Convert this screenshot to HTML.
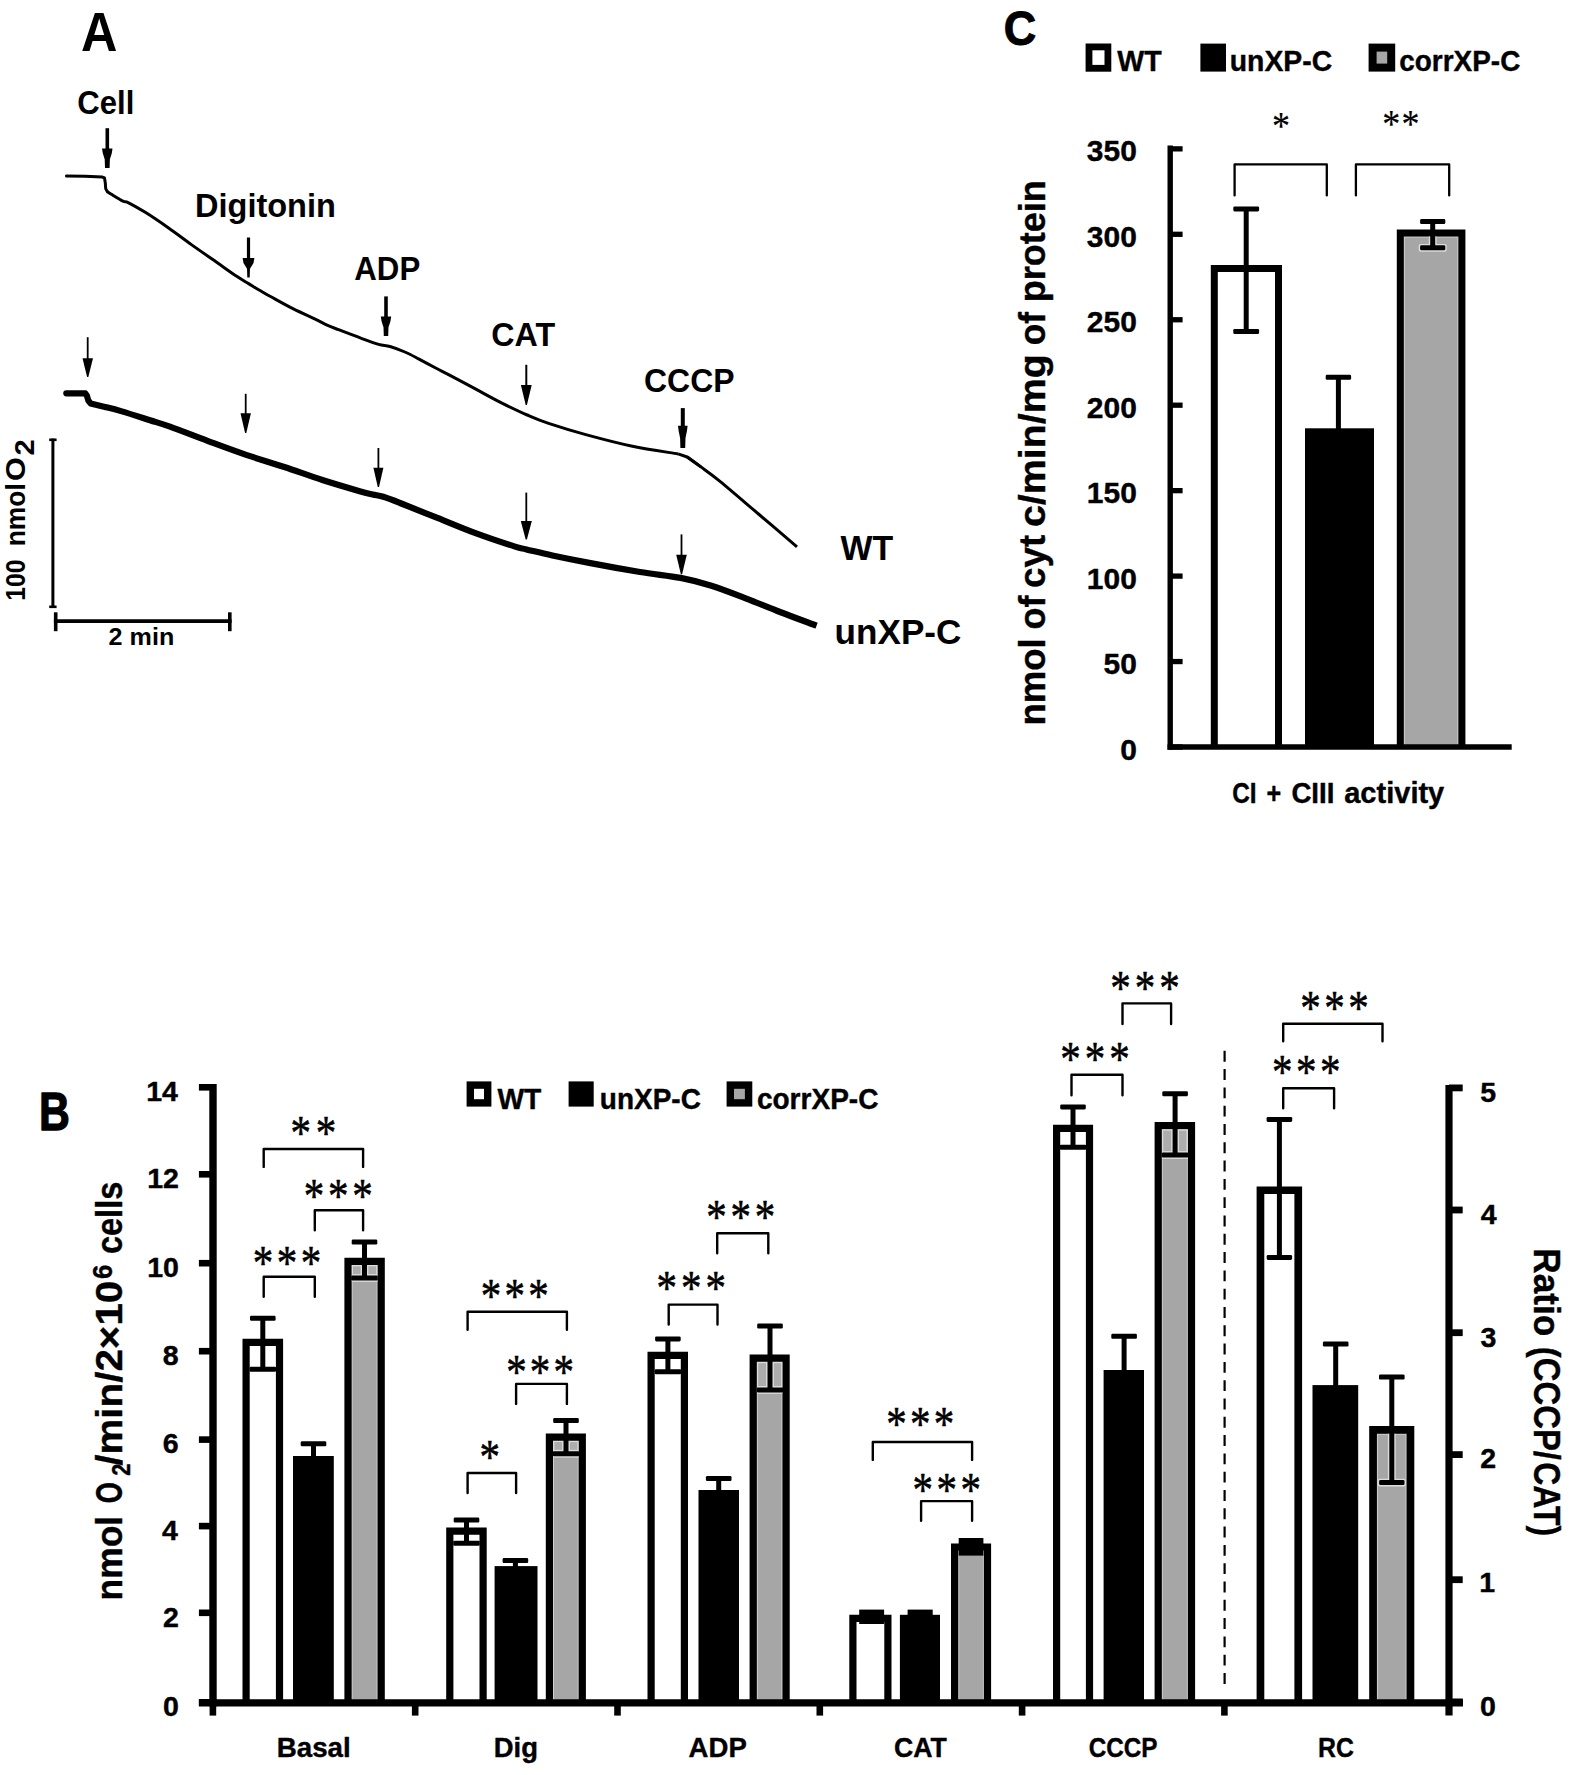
<!DOCTYPE html>
<html lang="en"><head><meta charset="utf-8"><title>Figure</title>
<style>html,body{margin:0;padding:0;background:#fff}svg{display:block}text{fill:#000;white-space:pre}</style>
</head><body>
<svg width="1575" height="1775" viewBox="0 0 1575 1775">
<rect width="1575" height="1775" fill="#fff"/>
<g>
<polyline points="66.5,176.0 85.0,176.3 102.4,177.1 104.5,178.0 105.3,183.0 105.7,188.6 107.3,191.6" fill="none" stroke="#000" stroke-width="3.0" stroke-linejoin="round" stroke-linecap="round"/>
<path d="M107.3,191.6 C108.0,192.1 108.8,192.7 111.4,194.3 C114.0,195.9 120.0,199.7 122.9,201.1 C125.8,202.5 124.8,200.9 128.6,202.8 C132.4,204.7 139.0,208.4 145.7,212.6 C152.4,216.8 161.0,222.7 168.6,228.0 C176.2,233.3 183.8,239.2 191.4,244.6 C199.0,250.0 206.7,255.3 214.3,260.6 C221.9,265.9 231.4,272.8 237.1,276.6 C242.8,280.4 244.8,281.3 248.6,283.6 C252.4,285.9 256.4,288.4 260.0,290.5 C263.6,292.6 264.5,293.3 270.0,296.3 C275.5,299.3 285.3,304.9 292.9,308.7 C300.5,312.5 310.0,316.7 315.7,319.4 C321.4,322.1 323.3,323.4 327.1,325.1 C330.9,326.8 332.9,327.5 338.6,329.7 C344.3,331.9 354.7,335.9 361.4,338.3 C368.1,340.8 373.8,343.0 378.6,344.4 C383.4,345.8 385.6,345.2 390.0,346.5 C394.4,347.8 400.1,349.9 404.9,352.0 C409.7,354.1 413.5,356.2 418.6,358.9 C423.7,361.6 430.5,365.2 435.7,368.0 C440.9,370.8 442.6,371.5 450.0,375.4 C457.4,379.3 471.2,386.7 480.0,391.4 C488.8,396.1 495.0,399.7 502.9,403.6 C510.8,407.5 519.6,411.7 527.2,415.0 C534.8,418.3 538.7,420.1 548.6,423.4 C558.5,426.7 572.7,431.1 586.7,434.9 C600.7,438.7 617.2,443.1 632.4,446.3 C647.6,449.5 670.5,452.6 678.1,453.9" fill="none" stroke="#000" stroke-width="3.0" stroke-linejoin="round" stroke-linecap="butt"/>
<polyline points="678.1,453.9 687.2,457.0 700.9,466.9" fill="none" stroke="#000" stroke-width="3.0" stroke-linejoin="round" stroke-linecap="butt"/>
<path d="M687.2,457.0 C689.5,458.6 695.4,462.8 700.9,466.9 C706.4,470.9 710.3,473.4 720.0,481.3 C729.7,489.2 746.3,503.6 759.1,514.5 C771.9,525.4 790.7,541.4 797.0,546.8" fill="none" stroke="#000" stroke-width="3.0" stroke-linejoin="round" stroke-linecap="butt"/>
<polyline points="66.3,393.3 85.3,393.3 87.0,396.0 88.3,400.5 90.6,403.4 105.0,406.9" fill="none" stroke="#000" stroke-width="6.2" stroke-linejoin="round" stroke-linecap="round"/>
<path d="M105.0,406.9 C107.7,407.6 113.5,408.9 121.0,411.1 C128.5,413.3 141.8,417.6 150.0,420.2 C158.2,422.8 160.3,423.2 170.0,426.7 C179.7,430.2 195.4,436.4 208.1,441.1 C220.8,445.8 233.5,450.6 246.2,454.9 C258.9,459.2 271.6,462.8 284.3,467.0 C297.0,471.2 309.7,475.9 322.4,480.0 C335.1,484.1 352.1,489.0 360.5,491.4 C368.9,493.8 368.9,493.6 372.7,494.5 C376.5,495.4 378.8,495.4 383.3,496.8 C387.9,498.2 390.9,499.4 400.0,503.0 C409.1,506.6 425.4,513.1 438.1,518.2 C450.8,523.3 463.5,528.7 476.2,533.4 C488.9,538.1 505.9,543.7 514.3,546.4 C522.7,549.1 520.1,547.9 526.5,549.4 C532.9,550.9 541.7,553.2 552.4,555.5 C563.1,557.8 575.9,560.4 590.5,563.1 C605.1,565.9 625.0,569.5 640.0,572.0 C655.0,574.5 668.7,575.6 680.6,577.9 C692.5,580.2 700.5,582.3 711.4,585.7 C722.2,589.1 734.3,593.9 745.7,598.3 C757.1,602.7 768.2,607.4 780.0,612.0 C791.8,616.6 810.5,623.4 816.6,625.7" fill="none" stroke="#000" stroke-width="6.2" stroke-linejoin="round" stroke-linecap="butt"/>
<line x1="107.30" y1="128.20" x2="107.30" y2="150.40" stroke="#000" stroke-width="3.6" stroke-linecap="butt" />
<polygon points="102.0,148.4 112.5,148.4 111.8,153.3 109.9,159.2 109.6,168.0 105.0,168.0 104.7,159.2 102.8,153.3" fill="#000"/>
<line x1="248.50" y1="237.50" x2="248.50" y2="260.00" stroke="#000" stroke-width="3.2" stroke-linecap="butt" />
<polygon points="242.6,258.0 254.4,258.0 253.5,262.9 250.0,268.8 249.7,277.6 247.3,277.6 247.0,268.8 243.5,262.9" fill="#000"/>
<line x1="386.00" y1="296.40" x2="386.00" y2="318.60" stroke="#000" stroke-width="3.6" stroke-linecap="butt" />
<polygon points="380.8,316.6 391.2,316.6 390.4,321.5 388.5,327.3 388.2,336.0 383.8,336.0 383.5,327.3 381.6,321.5" fill="#000"/>
<line x1="526.30" y1="364.80" x2="526.30" y2="387.00" stroke="#000" stroke-width="2.0" stroke-linecap="butt" />
<polygon points="520.9,385.0 531.7,385.0 526.9,405.0 525.7,405.0" fill="#000"/>
<line x1="682.80" y1="408.10" x2="682.80" y2="427.70" stroke="#000" stroke-width="4.0" stroke-linecap="butt" />
<polygon points="678.0,425.7 687.6,425.7 686.9,431.3 685.5,438.0 685.2,448.0 680.4,448.0 680.1,438.0 678.7,431.3" fill="#000"/>
<line x1="87.70" y1="337.20" x2="87.70" y2="360.30" stroke="#000" stroke-width="1.8" stroke-linecap="butt" />
<polygon points="82.5,358.3 93.0,358.3 88.3,377.1 87.1,377.1" fill="#000"/>
<line x1="245.70" y1="393.80" x2="245.70" y2="415.30" stroke="#000" stroke-width="1.8" stroke-linecap="butt" />
<polygon points="240.5,413.3 250.9,413.3 246.3,432.9 245.1,432.9" fill="#000"/>
<line x1="378.40" y1="448.00" x2="378.40" y2="469.80" stroke="#000" stroke-width="1.8" stroke-linecap="butt" />
<polygon points="373.4,467.8 383.4,467.8 379.0,486.9 377.8,486.9" fill="#000"/>
<line x1="526.30" y1="492.60" x2="526.30" y2="523.00" stroke="#000" stroke-width="1.8" stroke-linecap="butt" />
<polygon points="520.8,521.0 531.8,521.0 526.9,539.5 525.7,539.5" fill="#000"/>
<line x1="681.50" y1="534.40" x2="681.50" y2="556.80" stroke="#000" stroke-width="1.8" stroke-linecap="butt" />
<polygon points="676.2,554.8 686.8,554.8 682.1,574.3 680.9,574.3" fill="#000"/>
<line x1="52.90" y1="438.60" x2="52.90" y2="608.00" stroke="#000" stroke-width="3.0" stroke-linecap="butt" />
<line x1="49.20" y1="439.80" x2="56.60" y2="439.80" stroke="#000" stroke-width="2.6" stroke-linecap="butt" />
<line x1="49.20" y1="606.80" x2="56.60" y2="606.80" stroke="#000" stroke-width="2.6" stroke-linecap="butt" />
<line x1="53.90" y1="621.10" x2="231.60" y2="621.10" stroke="#000" stroke-width="3.6" stroke-linecap="butt" />
<line x1="55.70" y1="612.30" x2="55.70" y2="631.20" stroke="#000" stroke-width="3.6" stroke-linecap="butt" />
<line x1="229.80" y1="612.30" x2="229.80" y2="631.20" stroke="#000" stroke-width="3.6" stroke-linecap="butt" />
<rect x="1214.30" y="268.60" width="64.20" height="478.40" fill="#fff"/>
<polyline points="1214.30,747.00 1214.30,268.60 1278.50,268.60 1278.50,747.00" fill="none" stroke="#000" stroke-width="7.0" stroke-linejoin="miter"/>
<rect x="1305.00" y="428.30" width="69.00" height="318.70" fill="#000"/>
<rect x="1400.30" y="233.00" width="61.60" height="514.00" fill="#a6a6a6"/>
<rect x="1404.30" y="237.00" width="53.60" height="510.00" fill="none" stroke="#cfcfcf" stroke-width="1"/>
<polyline points="1400.30,747.00 1400.30,233.00 1461.90,233.00 1461.90,747.00" fill="none" stroke="#000" stroke-width="7.0" stroke-linejoin="miter"/>
<line x1="1246.20" y1="208.90" x2="1246.20" y2="331.50" stroke="#000" stroke-width="5.0" stroke-linecap="butt" />
<rect x="1233.30" y="206.40" width="25.80" height="5.00" rx="1.3" fill="#000" />
<rect x="1233.30" y="329.00" width="25.80" height="5.00" rx="1.3" fill="#000" />
<line x1="1338.40" y1="377.30" x2="1338.40" y2="432.00" stroke="#000" stroke-width="5.0" stroke-linecap="butt" />
<rect x="1325.70" y="374.80" width="25.40" height="5.00" rx="1.3" fill="#000" />
<clipPath id="hc1"><rect x="1403.80" y="236.50" width="54.60" height="510.50"/></clipPath>
<g clip-path="url(#hc1)">
<line x1="1432.70" y1="221.60" x2="1432.70" y2="247.80" stroke="#dcdcdc" stroke-width="7.8"/>
<rect x="1418.70" y="243.90" width="28.00" height="7.80" rx="2" fill="#dcdcdc"/>
</g>
<line x1="1432.70" y1="221.60" x2="1432.70" y2="247.80" stroke="#000" stroke-width="5.0" stroke-linecap="butt" />
<rect x="1420.10" y="219.10" width="25.20" height="5.00" rx="1.3" fill="#000" />
<rect x="1420.10" y="245.30" width="25.20" height="5.00" rx="1.3" fill="#000" />
<line x1="1170.20" y1="145.40" x2="1170.20" y2="749.70" stroke="#000" stroke-width="5.4" stroke-linecap="butt" />
<line x1="1167.50" y1="747.00" x2="1511.70" y2="747.00" stroke="#000" stroke-width="5.4" stroke-linecap="butt" />
<line x1="1170.20" y1="747.00" x2="1182.60" y2="747.00" stroke="#000" stroke-width="5.3" stroke-linecap="butt" />
<line x1="1170.20" y1="661.55" x2="1182.60" y2="661.55" stroke="#000" stroke-width="5.3" stroke-linecap="butt" />
<line x1="1170.20" y1="576.10" x2="1182.60" y2="576.10" stroke="#000" stroke-width="5.3" stroke-linecap="butt" />
<line x1="1170.20" y1="490.65" x2="1182.60" y2="490.65" stroke="#000" stroke-width="5.3" stroke-linecap="butt" />
<line x1="1170.20" y1="405.20" x2="1182.60" y2="405.20" stroke="#000" stroke-width="5.3" stroke-linecap="butt" />
<line x1="1170.20" y1="319.75" x2="1182.60" y2="319.75" stroke="#000" stroke-width="5.3" stroke-linecap="butt" />
<line x1="1170.20" y1="234.30" x2="1182.60" y2="234.30" stroke="#000" stroke-width="5.3" stroke-linecap="butt" />
<line x1="1170.20" y1="148.85" x2="1182.60" y2="148.85" stroke="#000" stroke-width="5.3" stroke-linecap="butt" />
<polyline points="1234.6,195.4 1234.6,164.4 1326.8,164.4 1326.8,195.4" fill="none" stroke="#000" stroke-width="2.3" stroke-linejoin="round" stroke-linecap="round"/>
<polyline points="1355.9,195.4 1355.9,164.4 1449.2,164.4 1449.2,195.4" fill="none" stroke="#000" stroke-width="2.3" stroke-linejoin="round" stroke-linecap="round"/>
<rect x="1089.00" y="46.90" width="18.90" height="21.40" fill="#fff" stroke="#000" stroke-width="6.8"/>
<rect x="1200.40" y="43.60" width="25.60" height="28.00" fill="#000"/>
<rect x="1372.60" y="47.60" width="18.60" height="20.00" fill="#a6a6a6" stroke="#000" stroke-width="8"/>
<rect x="246.10" y="1342.40" width="33.40" height="360.40" fill="#fff"/>
<polyline points="246.10,1702.80 246.10,1342.40 279.50,1342.40 279.50,1702.80" fill="none" stroke="#000" stroke-width="7.2" stroke-linejoin="miter"/>
<rect x="293.00" y="1456.00" width="40.80" height="246.80" fill="#000"/>
<rect x="348.00" y="1261.30" width="33.20" height="441.50" fill="#a6a6a6"/>
<rect x="352.10" y="1265.40" width="25.00" height="437.40" fill="none" stroke="#cfcfcf" stroke-width="1"/>
<polyline points="348.00,1702.80 348.00,1261.30 381.20,1261.30 381.20,1702.80" fill="none" stroke="#000" stroke-width="7.2" stroke-linejoin="miter"/>
<rect x="449.80" y="1531.20" width="33.30" height="171.60" fill="#fff"/>
<polyline points="449.80,1702.80 449.80,1531.20 483.10,1531.20 483.10,1702.80" fill="none" stroke="#000" stroke-width="7.2" stroke-linejoin="miter"/>
<rect x="494.60" y="1566.10" width="42.90" height="136.70" fill="#000"/>
<rect x="549.40" y="1437.10" width="32.90" height="265.70" fill="#a6a6a6"/>
<rect x="553.50" y="1441.20" width="24.70" height="261.60" fill="none" stroke="#cfcfcf" stroke-width="1"/>
<polyline points="549.40,1702.80 549.40,1437.10 582.30,1437.10 582.30,1702.80" fill="none" stroke="#000" stroke-width="7.2" stroke-linejoin="miter"/>
<rect x="651.10" y="1355.40" width="33.30" height="347.40" fill="#fff"/>
<polyline points="651.10,1702.80 651.10,1355.40 684.40,1355.40 684.40,1702.80" fill="none" stroke="#000" stroke-width="7.2" stroke-linejoin="miter"/>
<rect x="698.50" y="1490.00" width="40.50" height="212.80" fill="#000"/>
<rect x="753.20" y="1358.20" width="32.90" height="344.60" fill="#a6a6a6"/>
<rect x="757.30" y="1362.30" width="24.70" height="340.50" fill="none" stroke="#cfcfcf" stroke-width="1"/>
<polyline points="753.20,1702.80 753.20,1358.20 786.10,1358.20 786.10,1702.80" fill="none" stroke="#000" stroke-width="7.2" stroke-linejoin="miter"/>
<rect x="852.90" y="1618.40" width="35.00" height="84.40" fill="#fff"/>
<polyline points="852.90,1702.80 852.90,1618.40 887.90,1618.40 887.90,1702.80" fill="none" stroke="#000" stroke-width="7.2" stroke-linejoin="miter"/>
<rect x="899.90" y="1614.80" width="40.10" height="88.00" fill="#000"/>
<rect x="954.60" y="1547.00" width="32.90" height="155.80" fill="#a6a6a6"/>
<rect x="958.70" y="1551.10" width="24.70" height="151.70" fill="none" stroke="#cfcfcf" stroke-width="1"/>
<polyline points="954.60,1702.80 954.60,1547.00 987.50,1547.00 987.50,1702.80" fill="none" stroke="#000" stroke-width="7.2" stroke-linejoin="miter"/>
<rect x="1056.60" y="1128.40" width="32.90" height="574.40" fill="#fff"/>
<polyline points="1056.60,1702.80 1056.60,1128.40 1089.50,1128.40 1089.50,1702.80" fill="none" stroke="#000" stroke-width="7.2" stroke-linejoin="miter"/>
<rect x="1103.60" y="1370.00" width="40.40" height="332.80" fill="#000"/>
<rect x="1158.20" y="1125.60" width="33.30" height="577.20" fill="#a6a6a6"/>
<rect x="1162.30" y="1129.70" width="25.10" height="573.10" fill="none" stroke="#cfcfcf" stroke-width="1"/>
<polyline points="1158.20,1702.80 1158.20,1125.60 1191.50,1125.60 1191.50,1702.80" fill="none" stroke="#000" stroke-width="7.2" stroke-linejoin="miter"/>
<rect x="1260.45" y="1190.25" width="37.80" height="512.55" fill="#fff"/>
<polyline points="1260.45,1702.80 1260.45,1190.25 1298.25,1190.25 1298.25,1702.80" fill="none" stroke="#000" stroke-width="7.7" stroke-linejoin="miter"/>
<rect x="1312.50" y="1385.10" width="45.70" height="317.70" fill="#000"/>
<rect x="1373.05" y="1429.85" width="37.40" height="272.95" fill="#a6a6a6"/>
<rect x="1377.40" y="1434.20" width="28.70" height="268.60" fill="none" stroke="#cfcfcf" stroke-width="1"/>
<polyline points="1373.05,1702.80 1373.05,1429.85 1410.45,1429.85 1410.45,1702.80" fill="none" stroke="#000" stroke-width="7.7" stroke-linejoin="miter"/>
<line x1="262.80" y1="1318.30" x2="262.80" y2="1369.30" stroke="#000" stroke-width="5.0" stroke-linecap="butt" />
<rect x="250.00" y="1315.80" width="25.60" height="5.00" rx="1.3" fill="#000" />
<rect x="249.50" y="1366.80" width="26.60" height="5.00" rx="1.3" fill="#000" />
<line x1="313.50" y1="1443.70" x2="313.50" y2="1459.00" stroke="#000" stroke-width="5.0" stroke-linecap="butt" />
<rect x="300.70" y="1441.20" width="25.60" height="5.00" rx="1.3" fill="#000" />
<clipPath id="hc2"><rect x="351.60" y="1264.90" width="26.00" height="437.90"/></clipPath>
<g clip-path="url(#hc2)">
<rect x="351.60" y="1264.90" width="26.00" height="17.00" fill="#dcdcdc"/>
<rect x="353.00" y="1266.30" width="7.60" height="7.80" fill="#adadad"/>
<rect x="368.40" y="1266.30" width="7.80" height="7.80" fill="#adadad"/>
</g>
<line x1="364.50" y1="1242.00" x2="364.50" y2="1278.00" stroke="#000" stroke-width="5.0" stroke-linecap="butt" />
<rect x="351.70" y="1239.50" width="25.60" height="5.00" rx="1.3" fill="#000" />
<rect x="351.20" y="1275.50" width="26.60" height="5.00" rx="1.3" fill="#000" />
<line x1="466.50" y1="1520.00" x2="466.50" y2="1543.20" stroke="#000" stroke-width="5.0" stroke-linecap="butt" />
<rect x="453.70" y="1517.50" width="25.60" height="5.00" rx="1.3" fill="#000" />
<rect x="453.20" y="1540.70" width="26.60" height="5.00" rx="1.3" fill="#000" />
<line x1="515.40" y1="1560.60" x2="515.40" y2="1569.10" stroke="#000" stroke-width="5.0" stroke-linecap="butt" />
<rect x="502.60" y="1558.10" width="25.60" height="5.00" rx="1.3" fill="#000" />
<clipPath id="hc3"><rect x="553.00" y="1440.70" width="25.70" height="262.10"/></clipPath>
<g clip-path="url(#hc3)">
<rect x="553.00" y="1440.70" width="25.70" height="16.90" fill="#dcdcdc"/>
<rect x="554.40" y="1442.10" width="7.70" height="7.70" fill="#adadad"/>
<rect x="569.90" y="1442.10" width="7.40" height="7.70" fill="#adadad"/>
</g>
<line x1="566.00" y1="1420.60" x2="566.00" y2="1453.70" stroke="#000" stroke-width="5.0" stroke-linecap="butt" />
<rect x="553.20" y="1418.10" width="25.60" height="5.00" rx="1.3" fill="#000" />
<rect x="552.70" y="1451.20" width="26.60" height="5.00" rx="1.3" fill="#000" />
<line x1="667.90" y1="1338.90" x2="667.90" y2="1371.80" stroke="#000" stroke-width="5.0" stroke-linecap="butt" />
<rect x="655.10" y="1336.40" width="25.60" height="5.00" rx="1.3" fill="#000" />
<rect x="654.60" y="1369.30" width="26.60" height="5.00" rx="1.3" fill="#000" />
<line x1="718.70" y1="1478.50" x2="718.70" y2="1493.00" stroke="#000" stroke-width="5.0" stroke-linecap="butt" />
<rect x="705.90" y="1476.00" width="25.60" height="5.00" rx="1.3" fill="#000" />
<clipPath id="hc4"><rect x="756.80" y="1361.80" width="25.70" height="341.00"/></clipPath>
<g clip-path="url(#hc4)">
<rect x="756.80" y="1361.80" width="25.70" height="32.00" fill="#dcdcdc"/>
<rect x="758.20" y="1363.20" width="7.90" height="22.80" fill="#adadad"/>
<rect x="773.90" y="1363.20" width="7.20" height="22.80" fill="#adadad"/>
</g>
<line x1="770.00" y1="1326.00" x2="770.00" y2="1389.90" stroke="#000" stroke-width="5.0" stroke-linecap="butt" />
<rect x="757.20" y="1323.50" width="25.60" height="5.00" rx="1.3" fill="#000" />
<rect x="756.70" y="1387.40" width="26.60" height="5.00" rx="1.3" fill="#000" />
<rect x="859.20" y="1609.60" width="24.90" height="14.40" fill="#000"/>
<rect x="907.60" y="1609.60" width="25.10" height="7.00" fill="#000"/>
<rect x="958.70" y="1538.00" width="24.70" height="17.60" fill="#000"/>
<line x1="1073.00" y1="1106.90" x2="1073.00" y2="1147.30" stroke="#000" stroke-width="5.0" stroke-linecap="butt" />
<rect x="1060.20" y="1104.40" width="25.60" height="5.00" rx="1.3" fill="#000" />
<rect x="1059.70" y="1144.80" width="26.60" height="5.00" rx="1.3" fill="#000" />
<line x1="1124.10" y1="1336.30" x2="1124.10" y2="1373.00" stroke="#000" stroke-width="5.0" stroke-linecap="butt" />
<rect x="1111.30" y="1333.80" width="25.60" height="5.00" rx="1.3" fill="#000" />
<clipPath id="hc5"><rect x="1161.80" y="1129.20" width="26.10" height="573.60"/></clipPath>
<g clip-path="url(#hc5)">
<rect x="1161.80" y="1129.20" width="26.10" height="29.70" fill="#dcdcdc"/>
<rect x="1163.20" y="1130.60" width="8.00" height="20.50" fill="#adadad"/>
<rect x="1179.00" y="1130.60" width="7.50" height="20.50" fill="#adadad"/>
</g>
<line x1="1175.10" y1="1093.80" x2="1175.10" y2="1155.00" stroke="#000" stroke-width="5.0" stroke-linecap="butt" />
<rect x="1162.30" y="1091.30" width="25.60" height="5.00" rx="1.3" fill="#000" />
<rect x="1161.80" y="1152.50" width="26.60" height="5.00" rx="1.3" fill="#000" />
<line x1="1279.40" y1="1119.40" x2="1279.40" y2="1257.40" stroke="#000" stroke-width="5.0" stroke-linecap="butt" />
<rect x="1266.60" y="1116.90" width="25.60" height="5.00" rx="1.3" fill="#000" />
<rect x="1266.70" y="1254.90" width="25.40" height="5.00" rx="1.3" fill="#000" />
<line x1="1335.70" y1="1344.00" x2="1335.70" y2="1388.10" stroke="#000" stroke-width="5.0" stroke-linecap="butt" />
<rect x="1322.90" y="1341.50" width="25.60" height="5.00" rx="1.3" fill="#000" />
<clipPath id="hc6"><rect x="1376.90" y="1433.70" width="29.70" height="269.10"/></clipPath>
<g clip-path="url(#hc6)">
<line x1="1391.80" y1="1377.00" x2="1391.80" y2="1482.60" stroke="#dcdcdc" stroke-width="7.8"/>
<rect x="1377.70" y="1478.70" width="28.20" height="7.80" rx="2" fill="#dcdcdc"/>
</g>
<line x1="1391.80" y1="1377.00" x2="1391.80" y2="1482.60" stroke="#000" stroke-width="5.0" stroke-linecap="butt" />
<rect x="1379.00" y="1374.50" width="25.60" height="5.00" rx="1.3" fill="#000" />
<rect x="1379.10" y="1480.10" width="25.40" height="5.00" rx="1.3" fill="#000" />
<line x1="213.00" y1="1084.00" x2="213.00" y2="1706.40" stroke="#000" stroke-width="7.4" stroke-linecap="butt" />
<line x1="198.90" y1="1702.80" x2="1463.00" y2="1702.80" stroke="#000" stroke-width="7.2" stroke-linecap="butt" />
<line x1="198.90" y1="1087.30" x2="213.00" y2="1087.30" stroke="#000" stroke-width="6.6" stroke-linecap="butt" />
<line x1="198.90" y1="1174.30" x2="213.00" y2="1174.30" stroke="#000" stroke-width="6.6" stroke-linecap="butt" />
<line x1="198.90" y1="1263.20" x2="213.00" y2="1263.20" stroke="#000" stroke-width="6.6" stroke-linecap="butt" />
<line x1="198.90" y1="1351.20" x2="213.00" y2="1351.20" stroke="#000" stroke-width="6.6" stroke-linecap="butt" />
<line x1="198.90" y1="1439.60" x2="213.00" y2="1439.60" stroke="#000" stroke-width="6.6" stroke-linecap="butt" />
<line x1="198.90" y1="1526.10" x2="213.00" y2="1526.10" stroke="#000" stroke-width="6.6" stroke-linecap="butt" />
<line x1="198.90" y1="1612.80" x2="213.00" y2="1612.80" stroke="#000" stroke-width="6.6" stroke-linecap="butt" />
<line x1="198.90" y1="1702.30" x2="213.00" y2="1702.30" stroke="#000" stroke-width="6.6" stroke-linecap="butt" />
<line x1="212.90" y1="1702.80" x2="212.90" y2="1715.60" stroke="#000" stroke-width="6.6" stroke-linecap="butt" />
<line x1="415.20" y1="1702.80" x2="415.20" y2="1715.60" stroke="#000" stroke-width="6.6" stroke-linecap="butt" />
<line x1="617.50" y1="1702.80" x2="617.50" y2="1715.60" stroke="#000" stroke-width="6.6" stroke-linecap="butt" />
<line x1="819.80" y1="1702.80" x2="819.80" y2="1715.60" stroke="#000" stroke-width="6.6" stroke-linecap="butt" />
<line x1="1022.10" y1="1702.80" x2="1022.10" y2="1715.60" stroke="#000" stroke-width="6.6" stroke-linecap="butt" />
<line x1="1224.40" y1="1702.80" x2="1224.40" y2="1715.60" stroke="#000" stroke-width="6.6" stroke-linecap="butt" />
<line x1="1449.00" y1="1084.90" x2="1449.00" y2="1715.60" stroke="#000" stroke-width="7.2" stroke-linecap="butt" />
<line x1="1449.00" y1="1087.90" x2="1462.70" y2="1087.90" stroke="#000" stroke-width="6.8" stroke-linecap="butt" />
<line x1="1449.00" y1="1210.00" x2="1462.70" y2="1210.00" stroke="#000" stroke-width="6.8" stroke-linecap="butt" />
<line x1="1449.00" y1="1332.70" x2="1462.70" y2="1332.70" stroke="#000" stroke-width="6.8" stroke-linecap="butt" />
<line x1="1449.00" y1="1454.60" x2="1462.70" y2="1454.60" stroke="#000" stroke-width="6.8" stroke-linecap="butt" />
<line x1="1449.00" y1="1579.70" x2="1462.70" y2="1579.70" stroke="#000" stroke-width="6.8" stroke-linecap="butt" />
<line x1="1449.00" y1="1701.90" x2="1462.70" y2="1701.90" stroke="#000" stroke-width="6.8" stroke-linecap="butt" />
<line x1="1224.6" y1="1050.8" x2="1224.6" y2="1688.2" stroke="#000" stroke-width="2.2" stroke-dasharray="10.9 7.4"/>
<polyline points="263.7,1166.9 263.7,1149.0 363.1,1149.0 363.1,1166.9" fill="none" stroke="#000" stroke-width="2.4" stroke-linejoin="round" stroke-linecap="round"/>
<polyline points="314.8,1230.3 314.8,1210.3 363.1,1210.3 363.1,1230.3" fill="none" stroke="#000" stroke-width="2.4" stroke-linejoin="round" stroke-linecap="round"/>
<polyline points="263.7,1296.8 263.7,1276.8 314.8,1276.8 314.8,1296.8" fill="none" stroke="#000" stroke-width="2.4" stroke-linejoin="round" stroke-linecap="round"/>
<polyline points="467.6,1329.7 467.6,1311.8 566.9,1311.8 566.9,1329.7" fill="none" stroke="#000" stroke-width="2.4" stroke-linejoin="round" stroke-linecap="round"/>
<polyline points="516.1,1403.9 516.1,1383.9 566.9,1383.9 566.9,1403.9" fill="none" stroke="#000" stroke-width="2.4" stroke-linejoin="round" stroke-linecap="round"/>
<polyline points="467.6,1493.1 467.6,1473.0 516.1,1473.0 516.1,1493.1" fill="none" stroke="#000" stroke-width="2.4" stroke-linejoin="round" stroke-linecap="round"/>
<polyline points="717.2,1253.2 717.2,1233.2 768.3,1233.2 768.3,1253.2" fill="none" stroke="#000" stroke-width="2.4" stroke-linejoin="round" stroke-linecap="round"/>
<polyline points="668.7,1324.6 668.7,1304.6 717.5,1304.6 717.5,1324.6" fill="none" stroke="#000" stroke-width="2.4" stroke-linejoin="round" stroke-linecap="round"/>
<polyline points="872.8,1459.9 872.8,1442.0 972.1,1442.0 972.1,1459.9" fill="none" stroke="#000" stroke-width="2.4" stroke-linejoin="round" stroke-linecap="round"/>
<polyline points="921.1,1520.8 921.1,1501.1 972.1,1501.1 972.1,1520.8" fill="none" stroke="#000" stroke-width="2.4" stroke-linejoin="round" stroke-linecap="round"/>
<polyline points="1122.5,1024.1 1122.5,1003.4 1171.1,1003.4 1171.1,1024.1" fill="none" stroke="#000" stroke-width="2.4" stroke-linejoin="round" stroke-linecap="round"/>
<polyline points="1071.5,1095.2 1071.5,1074.8 1122.5,1074.8 1122.5,1095.2" fill="none" stroke="#000" stroke-width="2.4" stroke-linejoin="round" stroke-linecap="round"/>
<polyline points="1283.2,1041.3 1283.2,1023.7 1382.5,1023.7 1382.5,1041.3" fill="none" stroke="#000" stroke-width="2.4" stroke-linejoin="round" stroke-linecap="round"/>
<polyline points="1283.2,1108.2 1283.2,1088.2 1334.1,1088.2 1334.1,1108.2" fill="none" stroke="#000" stroke-width="2.4" stroke-linejoin="round" stroke-linecap="round"/>
<rect x="470.30" y="1085.10" width="17.40" height="17.80" fill="#fff" stroke="#000" stroke-width="7.4"/>
<rect x="568.60" y="1081.40" width="25.10" height="25.20" fill="#000"/>
<rect x="730.30" y="1085.10" width="18.30" height="17.80" fill="#a6a6a6" stroke="#000" stroke-width="7.4"/>
<text transform="translate(81.04,50.60) scale(0.9160,1)" font-family='"Liberation Sans", Arial, Helvetica, sans-serif' font-weight="bold" font-size="55.07">A</text>
<text transform="translate(77.36,114.00) scale(0.9162,1)" font-family='"Liberation Sans", Arial, Helvetica, sans-serif' font-weight="bold" font-size="33.91">Cell</text>
<text transform="translate(194.99,216.60) scale(0.9593,1)" font-family='"Liberation Sans", Arial, Helvetica, sans-serif' font-weight="bold" font-size="33.91">Digitonin</text>
<text transform="translate(354.32,279.60) scale(0.9325,1)" font-family='"Liberation Sans", Arial, Helvetica, sans-serif' font-weight="bold" font-size="33.48">ADP</text>
<text transform="translate(491.31,346.30) scale(0.9503,1)" font-family='"Liberation Sans", Arial, Helvetica, sans-serif' font-weight="bold" font-size="33.91">CAT</text>
<text transform="translate(644.02,392.30) scale(0.9587,1)" font-family='"Liberation Sans", Arial, Helvetica, sans-serif' font-weight="bold" font-size="33.33">CCCP</text>
<text transform="translate(840.60,560.40) scale(0.9612,1)" font-family='"Liberation Sans", Arial, Helvetica, sans-serif' font-weight="bold" font-size="35.22">WT</text>
<text transform="translate(834.59,644.40) scale(1.0095,1)" font-family='"Liberation Sans", Arial, Helvetica, sans-serif' font-weight="bold" font-size="34.78">unXP-C</text>
<text transform="translate(108.62,644.70) scale(1.0509,1)" font-family='"Liberation Sans", Arial, Helvetica, sans-serif' font-weight="bold" font-size="23.91">2 min</text>
<text transform="translate(24.70,600.71) rotate(-90) scale(0.9004,1)" font-family='"Liberation Sans", Arial, Helvetica, sans-serif' font-weight="bold" font-size="27.54">100</text>
<text transform="translate(24.70,546.32) rotate(-90) scale(0.9582,1)" font-family='"Liberation Sans", Arial, Helvetica, sans-serif' font-weight="bold" font-size="27.54">nmol</text>
<text transform="translate(24.70,481.02) rotate(-90) scale(1.1078,1)" font-family='"Liberation Sans", Arial, Helvetica, sans-serif' font-weight="bold" font-size="27.54">O</text>
<text transform="translate(33.50,455.62) rotate(-90) scale(1.0820,1)" font-family='"Liberation Sans", Arial, Helvetica, sans-serif' font-weight="bold" font-size="26.96">2</text>
<text transform="translate(1120.26,759.60) scale(0.9900,1)" font-family='"Liberation Sans", Arial, Helvetica, sans-serif' font-weight="bold" font-size="30.29" stroke="#000" stroke-width="0.4" stroke-linejoin="round">0</text>
<text transform="translate(1103.61,674.15) scale(0.9900,1)" font-family='"Liberation Sans", Arial, Helvetica, sans-serif' font-weight="bold" font-size="30.29" stroke="#000" stroke-width="0.4" stroke-linejoin="round">50</text>
<text transform="translate(1086.82,588.70) scale(0.9900,1)" font-family='"Liberation Sans", Arial, Helvetica, sans-serif' font-weight="bold" font-size="30.29" stroke="#000" stroke-width="0.4" stroke-linejoin="round">100</text>
<text transform="translate(1086.82,503.25) scale(0.9900,1)" font-family='"Liberation Sans", Arial, Helvetica, sans-serif' font-weight="bold" font-size="30.29" stroke="#000" stroke-width="0.4" stroke-linejoin="round">150</text>
<text transform="translate(1086.82,417.80) scale(0.9900,1)" font-family='"Liberation Sans", Arial, Helvetica, sans-serif' font-weight="bold" font-size="30.29" stroke="#000" stroke-width="0.4" stroke-linejoin="round">200</text>
<text transform="translate(1086.82,332.35) scale(0.9900,1)" font-family='"Liberation Sans", Arial, Helvetica, sans-serif' font-weight="bold" font-size="30.29" stroke="#000" stroke-width="0.4" stroke-linejoin="round">250</text>
<text transform="translate(1086.82,246.90) scale(0.9900,1)" font-family='"Liberation Sans", Arial, Helvetica, sans-serif' font-weight="bold" font-size="30.29" stroke="#000" stroke-width="0.4" stroke-linejoin="round">300</text>
<text transform="translate(1086.82,161.45) scale(0.9900,1)" font-family='"Liberation Sans", Arial, Helvetica, sans-serif' font-weight="bold" font-size="30.29" stroke="#000" stroke-width="0.4" stroke-linejoin="round">350</text>
<text transform="translate(1272.00,139.05) scale(0.9474,1.0526)" x="0.00" y="0" font-family='"Liberation Serif", "Times New Roman", "DejaVu Serif", serif' font-size="38.0" stroke="#000" stroke-width="0.15">*</text>
<text transform="translate(1382.20,137.20) scale(0.9474,1.0526)" x="0.00 20.48" y="0" font-family='"Liberation Serif", "Times New Roman", "DejaVu Serif", serif' font-size="38.0" stroke="#000" stroke-width="0.15">**</text>
<text transform="translate(1117.30,71.30) scale(0.9424,1)" font-family='"Liberation Sans", Arial, Helvetica, sans-serif' font-weight="bold" font-size="30.29" stroke="#000" stroke-width="0.4" stroke-linejoin="round">WT</text>
<text transform="translate(1229.80,71.30) scale(0.9360,1)" font-family='"Liberation Sans", Arial, Helvetica, sans-serif' font-weight="bold" font-size="30.29" stroke="#000" stroke-width="0.4" stroke-linejoin="round">unXP-C</text>
<text transform="translate(1399.28,71.30) scale(0.9219,1)" font-family='"Liberation Sans", Arial, Helvetica, sans-serif' font-weight="bold" font-size="30.29" stroke="#000" stroke-width="0.4" stroke-linejoin="round">corrXP-C</text>
<text transform="translate(1003.70,45.00) scale(0.9417,1)" font-family='"Liberation Sans", Arial, Helvetica, sans-serif' font-weight="bold" font-size="47.83" stroke="#000" stroke-width="1.0" stroke-linejoin="round">C</text>
<text transform="translate(1232.13,802.90) scale(0.8279,1)" font-family='"Liberation Sans", Arial, Helvetica, sans-serif' font-weight="bold" font-size="29.42" stroke="#000" stroke-width="0.4" stroke-linejoin="round">CI</text>
<text transform="translate(1266.39,802.90) scale(0.8548,1)" font-family='"Liberation Sans", Arial, Helvetica, sans-serif' font-weight="bold" font-size="29.42" stroke="#000" stroke-width="0.4" stroke-linejoin="round">+</text>
<text transform="translate(1291.39,802.90) scale(0.9400,1)" font-family='"Liberation Sans", Arial, Helvetica, sans-serif' font-weight="bold" font-size="29.42" stroke="#000" stroke-width="0.4" stroke-linejoin="round">CIII</text>
<text transform="translate(1344.23,802.90) scale(0.9868,1)" font-family='"Liberation Sans", Arial, Helvetica, sans-serif' font-weight="bold" font-size="29.42" stroke="#000" stroke-width="0.4" stroke-linejoin="round">activity</text>
<text transform="translate(1044.90,725.58) rotate(-90) scale(0.9811,1)" font-family='"Liberation Sans", Arial, Helvetica, sans-serif' font-weight="bold" font-size="37.25" stroke="#000" stroke-width="0.4" stroke-linejoin="round">nmol</text>
<text transform="translate(1044.90,629.44) rotate(-90) scale(0.9671,1)" font-family='"Liberation Sans", Arial, Helvetica, sans-serif' font-weight="bold" font-size="37.25" stroke="#000" stroke-width="0.4" stroke-linejoin="round">of</text>
<text transform="translate(1044.90,587.97) rotate(-90) scale(0.9873,1)" font-family='"Liberation Sans", Arial, Helvetica, sans-serif' font-weight="bold" font-size="37.25" stroke="#000" stroke-width="0.4" stroke-linejoin="round">cyt</text>
<text transform="translate(1044.90,527.08) rotate(-90) scale(1.0576,1)" font-family='"Liberation Sans", Arial, Helvetica, sans-serif' font-weight="bold" font-size="37.25" stroke="#000" stroke-width="0.4" stroke-linejoin="round">c/min/mg</text>
<text transform="translate(1044.90,345.31) rotate(-90) scale(0.9464,1)" font-family='"Liberation Sans", Arial, Helvetica, sans-serif' font-weight="bold" font-size="37.25" stroke="#000" stroke-width="0.4" stroke-linejoin="round">of</text>
<text transform="translate(1044.90,302.14) rotate(-90) scale(0.9669,1)" font-family='"Liberation Sans", Arial, Helvetica, sans-serif' font-weight="bold" font-size="37.25" stroke="#000" stroke-width="0.4" stroke-linejoin="round">protein</text>
<text transform="translate(146.15,1101.00) scale(1.0000,1)" font-family='"Liberation Sans", Arial, Helvetica, sans-serif' font-weight="bold" font-size="28.55" stroke="#000" stroke-width="0.4" stroke-linejoin="round">14</text>
<text transform="translate(147.15,1188.00) scale(1.0000,1)" font-family='"Liberation Sans", Arial, Helvetica, sans-serif' font-weight="bold" font-size="28.55" stroke="#000" stroke-width="0.4" stroke-linejoin="round">12</text>
<text transform="translate(147.15,1276.90) scale(1.0000,1)" font-family='"Liberation Sans", Arial, Helvetica, sans-serif' font-weight="bold" font-size="28.55" stroke="#000" stroke-width="0.4" stroke-linejoin="round">10</text>
<text transform="translate(162.71,1364.90) scale(1.0000,1)" font-family='"Liberation Sans", Arial, Helvetica, sans-serif' font-weight="bold" font-size="28.55" stroke="#000" stroke-width="0.4" stroke-linejoin="round">8</text>
<text transform="translate(162.85,1453.30) scale(1.0000,1)" font-family='"Liberation Sans", Arial, Helvetica, sans-serif' font-weight="bold" font-size="28.55" stroke="#000" stroke-width="0.4" stroke-linejoin="round">6</text>
<text transform="translate(162.00,1539.80) scale(1.0000,1)" font-family='"Liberation Sans", Arial, Helvetica, sans-serif' font-weight="bold" font-size="28.55" stroke="#000" stroke-width="0.4" stroke-linejoin="round">4</text>
<text transform="translate(163.00,1626.50) scale(1.0000,1)" font-family='"Liberation Sans", Arial, Helvetica, sans-serif' font-weight="bold" font-size="28.55" stroke="#000" stroke-width="0.4" stroke-linejoin="round">2</text>
<text transform="translate(163.00,1716.00) scale(1.0000,1)" font-family='"Liberation Sans", Arial, Helvetica, sans-serif' font-weight="bold" font-size="28.55" stroke="#000" stroke-width="0.4" stroke-linejoin="round">0</text>
<text transform="translate(1480.34,1101.50) scale(1.0000,1)" font-family='"Liberation Sans", Arial, Helvetica, sans-serif' font-weight="bold" font-size="28.55" stroke="#000" stroke-width="0.4" stroke-linejoin="round">5</text>
<text transform="translate(1480.77,1223.80) scale(1.0000,1)" font-family='"Liberation Sans", Arial, Helvetica, sans-serif' font-weight="bold" font-size="28.55" stroke="#000" stroke-width="0.4" stroke-linejoin="round">4</text>
<text transform="translate(1480.49,1346.50) scale(1.0000,1)" font-family='"Liberation Sans", Arial, Helvetica, sans-serif' font-weight="bold" font-size="28.55" stroke="#000" stroke-width="0.4" stroke-linejoin="round">3</text>
<text transform="translate(1480.20,1467.90) scale(1.0000,1)" font-family='"Liberation Sans", Arial, Helvetica, sans-serif' font-weight="bold" font-size="28.55" stroke="#000" stroke-width="0.4" stroke-linejoin="round">2</text>
<text transform="translate(1479.34,1591.60) scale(1.0000,1)" font-family='"Liberation Sans", Arial, Helvetica, sans-serif' font-weight="bold" font-size="28.55" stroke="#000" stroke-width="0.4" stroke-linejoin="round">1</text>
<text transform="translate(1480.06,1716.00) scale(1.0000,1)" font-family='"Liberation Sans", Arial, Helvetica, sans-serif' font-weight="bold" font-size="28.55" stroke="#000" stroke-width="0.4" stroke-linejoin="round">0</text>
<text transform="translate(290.45,1148.98) scale(0.8913,1.0661)" x="0.00 28.50" y="0" font-family='"Liberation Serif", "Times New Roman", "DejaVu Serif", serif' font-size="46.0" stroke="#000" stroke-width="0.55">**</text>
<text transform="translate(303.65,1212.18) scale(0.8913,1.0661)" x="0.00 27.32 54.64" y="0" font-family='"Liberation Serif", "Times New Roman", "DejaVu Serif", serif' font-size="46.0" stroke="#000" stroke-width="0.55">***</text>
<text transform="translate(252.65,1278.68) scale(0.8913,1.0661)" x="0.00 27.04 54.08" y="0" font-family='"Liberation Serif", "Times New Roman", "DejaVu Serif", serif' font-size="46.0" stroke="#000" stroke-width="0.55">***</text>
<text transform="translate(480.85,1312.13) scale(0.8913,1.0661)" x="0.00 26.53 53.07" y="0" font-family='"Liberation Serif", "Times New Roman", "DejaVu Serif", serif' font-size="46.0" stroke="#000" stroke-width="0.55">***</text>
<text transform="translate(506.15,1388.18) scale(0.8913,1.0661)" x="0.00 26.53 53.07" y="0" font-family='"Liberation Serif", "Times New Roman", "DejaVu Serif", serif' font-size="46.0" stroke="#000" stroke-width="0.55">***</text>
<text transform="translate(479.50,1473.43) scale(0.8913,1.0661)" x="0.00" y="0" font-family='"Liberation Serif", "Times New Roman", "DejaVu Serif", serif' font-size="46.0" stroke="#000" stroke-width="0.55">*</text>
<text transform="translate(706.15,1232.83) scale(0.8913,1.0661)" x="0.00 27.32 54.64" y="0" font-family='"Liberation Serif", "Times New Roman", "DejaVu Serif", serif' font-size="46.0" stroke="#000" stroke-width="0.55">***</text>
<text transform="translate(656.45,1304.03) scale(0.8913,1.0661)" x="0.00 27.54 55.09" y="0" font-family='"Liberation Serif", "Times New Roman", "DejaVu Serif", serif' font-size="46.0" stroke="#000" stroke-width="0.55">***</text>
<text transform="translate(886.15,1440.18) scale(0.8913,1.0661)" x="0.00 26.70 53.40" y="0" font-family='"Liberation Serif", "Times New Roman", "DejaVu Serif", serif' font-size="46.0" stroke="#000" stroke-width="0.55">***</text>
<text transform="translate(912.55,1506.38) scale(0.8913,1.0661)" x="0.00 26.93 53.85" y="0" font-family='"Liberation Serif", "Times New Roman", "DejaVu Serif", serif' font-size="46.0" stroke="#000" stroke-width="0.55">***</text>
<text transform="translate(1110.15,1003.73) scale(0.8913,1.0661)" x="0.00 27.54 55.09" y="0" font-family='"Liberation Serif", "Times New Roman", "DejaVu Serif", serif' font-size="46.0" stroke="#000" stroke-width="0.55">***</text>
<text transform="translate(1060.25,1074.83) scale(0.8913,1.0661)" x="0.00 27.49 54.98" y="0" font-family='"Liberation Serif", "Times New Roman", "DejaVu Serif", serif' font-size="46.0" stroke="#000" stroke-width="0.55">***</text>
<text transform="translate(1300.15,1024.43) scale(0.8913,1.0661)" x="0.00 26.93 53.85" y="0" font-family='"Liberation Serif", "Times New Roman", "DejaVu Serif", serif' font-size="46.0" stroke="#000" stroke-width="0.55">***</text>
<text transform="translate(1271.95,1087.78) scale(0.8913,1.0661)" x="0.00 26.93 53.85" y="0" font-family='"Liberation Serif", "Times New Roman", "DejaVu Serif", serif' font-size="46.0" stroke="#000" stroke-width="0.55">***</text>
<text transform="translate(497.50,1108.60) scale(0.9736,1)" font-family='"Liberation Sans", Arial, Helvetica, sans-serif' font-weight="bold" font-size="28.99" stroke="#000" stroke-width="0.4" stroke-linejoin="round">WT</text>
<text transform="translate(599.82,1108.60) scale(0.9654,1)" font-family='"Liberation Sans", Arial, Helvetica, sans-serif' font-weight="bold" font-size="28.99" stroke="#000" stroke-width="0.4" stroke-linejoin="round">unXP-C</text>
<text transform="translate(756.88,1108.60) scale(0.9683,1)" font-family='"Liberation Sans", Arial, Helvetica, sans-serif' font-weight="bold" font-size="28.99" stroke="#000" stroke-width="0.4" stroke-linejoin="round">corrXP-C</text>
<text transform="translate(38.92,1129.50) scale(0.8066,1)" font-family='"Liberation Sans", Arial, Helvetica, sans-serif' font-weight="bold" font-size="53.04" stroke="#000" stroke-width="1.3" stroke-linejoin="round">B</text>
<text transform="translate(276.70,1756.60) scale(0.9763,1)" font-family='"Liberation Sans", Arial, Helvetica, sans-serif' font-weight="bold" font-size="28.41" stroke="#000" stroke-width="0.4" stroke-linejoin="round">Basal</text>
<text transform="translate(493.82,1756.60) scale(0.9657,1)" font-family='"Liberation Sans", Arial, Helvetica, sans-serif' font-weight="bold" font-size="28.41" stroke="#000" stroke-width="0.4" stroke-linejoin="round">Dig</text>
<text transform="translate(688.61,1756.60) scale(0.9703,1)" font-family='"Liberation Sans", Arial, Helvetica, sans-serif' font-weight="bold" font-size="28.41" stroke="#000" stroke-width="0.4" stroke-linejoin="round">ADP</text>
<text transform="translate(893.93,1756.60) scale(0.9394,1)" font-family='"Liberation Sans", Arial, Helvetica, sans-serif' font-weight="bold" font-size="28.41" stroke="#000" stroke-width="0.4" stroke-linejoin="round">CAT</text>
<text transform="translate(1088.63,1756.60) scale(0.8559,1)" font-family='"Liberation Sans", Arial, Helvetica, sans-serif' font-weight="bold" font-size="28.41" stroke="#000" stroke-width="0.4" stroke-linejoin="round">CCCP</text>
<text transform="translate(1317.98,1756.60) scale(0.8762,1)" font-family='"Liberation Sans", Arial, Helvetica, sans-serif' font-weight="bold" font-size="28.41" stroke="#000" stroke-width="0.4" stroke-linejoin="round">RC</text>
<text transform="translate(122.30,1600.40) rotate(-90) scale(0.9767,1)" font-family='"Liberation Sans", Arial, Helvetica, sans-serif' font-weight="bold" font-size="36.23" stroke="#000" stroke-width="0.4" stroke-linejoin="round">nmol</text>
<text transform="translate(122.30,1503.29) rotate(-90) scale(0.7506,1)" font-family='"Liberation Sans", Arial, Helvetica, sans-serif' font-weight="bold" font-size="36.23" stroke="#000" stroke-width="0.4" stroke-linejoin="round">O</text>
<text transform="translate(122.30,1465.70) rotate(-90) scale(1.1137,1)" font-family='"Liberation Sans", Arial, Helvetica, sans-serif' font-weight="bold" font-size="36.23" stroke="#000" stroke-width="0.4" stroke-linejoin="round">/min/2×10</text>
<text transform="translate(122.30,1254.00) rotate(-90) scale(0.8964,1)" font-family='"Liberation Sans", Arial, Helvetica, sans-serif' font-weight="bold" font-size="36.23" stroke="#000" stroke-width="0.4" stroke-linejoin="round">cells</text>
<text transform="translate(129.90,1475.77) rotate(-90) scale(0.8203,1)" font-family='"Liberation Sans", Arial, Helvetica, sans-serif' font-weight="bold" font-size="26.67" stroke="#000" stroke-width="0.4" stroke-linejoin="round">2</text>
<text transform="translate(111.70,1278.90) rotate(-90) scale(0.9167,1)" font-family='"Liberation Sans", Arial, Helvetica, sans-serif' font-weight="bold" font-size="28.12" stroke="#000" stroke-width="0.4" stroke-linejoin="round">6</text>
<text transform="translate(1534.40,1248.31) rotate(90) scale(0.9573,1)" font-family='"Liberation Sans", Arial, Helvetica, sans-serif' font-weight="bold" font-size="36.81" stroke="#000" stroke-width="0.4" stroke-linejoin="round">Ratio</text>
<text transform="translate(1534.40,1346.86) rotate(90) scale(0.8924,1)" font-family='"Liberation Sans", Arial, Helvetica, sans-serif' font-weight="bold" font-size="36.81" stroke="#000" stroke-width="0.4" stroke-linejoin="round">(CCCP/</text>
<text transform="translate(1534.40,1462.22) rotate(90) scale(0.8681,1)" font-family='"Liberation Sans", Arial, Helvetica, sans-serif' font-weight="bold" font-size="36.81" stroke="#000" stroke-width="0.4" stroke-linejoin="round">CAT)</text>
</g>
</svg>
</body></html>
